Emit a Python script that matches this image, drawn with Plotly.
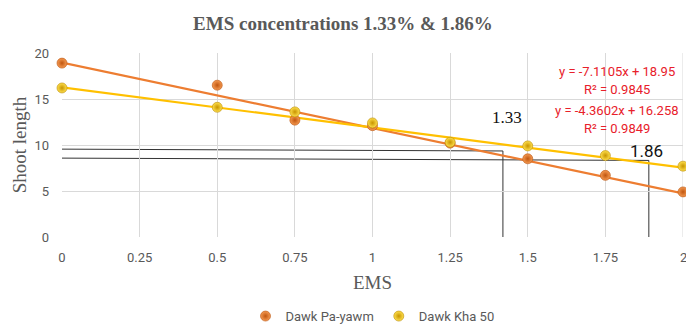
import plotly.graph_objects as go

# EMS dose (%) and mean shoot length for the two varieties
ems = [0, 0.5, 0.75, 1, 1.25, 1.5, 1.75, 2]
pa_yawm = [18.9, 16.5, 12.7, 12.1, 10.2, 8.5, 6.7, 4.9]
kha_50 = [16.2, 14.1, 13.6, 12.4, 10.3, 9.9, 8.85, 7.7]

# linear trendlines (slope, intercept, R²)
trend_pa = (-7.1105, 18.95, 0.9845)
trend_kha = (-4.3602, 16.258, 0.9849)

# reading guides: where each trend reaches the target shoot length
guide_x = [1.42, 1.89]
guide_y = [9.45, 8.45]
guide_labels = ["1.33", "1.86"]

x_ticks = [0, 0.25, 0.5, 0.75, 1, 1.25, 1.5, 1.75, 2]
y_ticks = [0, 5, 10, 15, 20]

ORANGE = "#ED7D31"
YELLOW = "#FFC000"
GRAY = "#595959"
SANS = "Roboto, sans-serif"
SERIF = "Liberation Serif, DejaVu Serif, serif"

fig = go.Figure()

x_end = [ems[0], ems[-1]]
for (m, b, _), col in ((trend_pa, ORANGE), (trend_kha, YELLOW)):
    fig.add_trace(go.Scatter(
        x=x_end, y=[m * x + b for x in x_end], mode="lines",
        line=dict(color=col, width=2.2), showlegend=False,
        hoverinfo="skip", cliponaxis=False))

fig.add_trace(go.Scatter(
    x=ems, y=pa_yawm, mode="markers", name="Dawk Pa-yawm",
    marker=dict(size=10, color="#F59A52",
                gradient=dict(type="radial", color="#C0560F"),
                line=dict(width=0.6, color="#B8520E")),
    cliponaxis=False))
fig.add_trace(go.Scatter(
    x=ems, y=kha_50, mode="markers", name="Dawk Kha 50",
    marker=dict(size=10, color="#FFE04D",
                gradient=dict(type="radial", color="#C79400"),
                line=dict(width=0.6, color="#B88A00")),
    cliponaxis=False))

# guide lines: horizontal from y-axis, vertical down to x-axis
for gx, gy, dy in zip(guide_x, guide_y, [0.2, 0.25]):
    fig.add_shape(type="line", x0=0, y0=gy + dy / 2, x1=gx, y1=gy - dy / 2,
                  line=dict(color="#333333", width=1), layer="below")
    fig.add_shape(type="line", x0=gx, y0=gy - dy / 2, x1=gx, y1=0,
                  line=dict(color="#333333", width=1), layer="below")

annotations = []
for (m, b, r2), y0 in ((trend_pa, 18.0), (trend_kha, 13.8)):
    annotations.append(dict(
        x=1.787, y=y0, xref="x", yref="y", showarrow=False,
        text=f"y = {m}x + {b}", font=dict(family=SANS, size=13, color="#E8202A")))
    annotations.append(dict(
        x=1.787, y=y0 - 2.0, xref="x", yref="y", showarrow=False,
        text=f"R² = {r2}", font=dict(family=SANS, size=13, color="#E8202A")))

annotations.append(dict(x=1.433, y=13.0, xref="x", yref="y", showarrow=False,
                        text=guide_labels[0],
                        font=dict(family=SERIF, size=17, color="#111111")))
annotations.append(dict(x=1.884, y=9.35, xref="x", yref="y", showarrow=False,
                        text=guide_labels[1],
                        font=dict(family=SANS, size=17, color="#111111")))

# last x tick label sits on the right edge and gets cut, so place it by hand
annotations.append(dict(x=x_ticks[-1], y=0, xref="x", yref="y", showarrow=False,
                        text=f"{x_ticks[-1]:g}", xanchor="center", yanchor="top",
                        yshift=-11,
                        font=dict(family=SANS, size=13, color=GRAY)))

fig.update_layout(
    width=686, height=331,
    margin=dict(l=62, r=3, t=53, b=94, autoexpand=False),
    paper_bgcolor="white", plot_bgcolor="white",
    title=dict(text="<b>EMS concentrations 1.33% & 1.86%</b>",
               x=0.5, xanchor="center", y=0.93, yanchor="middle",
               font=dict(family=SERIF, size=19, color=GRAY)),
    xaxis=dict(range=[0, 2], tickvals=x_ticks[:-1],
               ticktext=[f"{t:g}" for t in x_ticks[:-1]],
               showgrid=True, gridcolor="#D9D9D9", gridwidth=1,
               zeroline=False, showline=False, ticks="",
               tickfont=dict(family=SANS, size=13, color=GRAY),
               ticklabelstandoff=11, automargin=False,
               title=dict(text="EMS", standoff=11,
                          font=dict(family=SERIF, size=19, color=GRAY))),
    yaxis=dict(range=[0, 20], tickvals=y_ticks,
               showgrid=True, gridcolor="#D9D9D9", gridwidth=1,
               zeroline=False, showline=False, ticks="",
               tickfont=dict(family=SANS, size=13, color=GRAY),
               ticklabelstandoff=12, automargin=False,
               title=dict(text="Shoot length", standoff=2,
                          font=dict(family=SERIF, size=19, color=GRAY))),
    legend=dict(orientation="h", x=0.5, xanchor="center",
                yref="container", y=0.045, yanchor="middle",
                font=dict(family=SANS, size=13, color=GRAY),
                itemwidth=30),
    annotations=annotations,
    showlegend=True,
)
# vertical grid line at x = 2
fig.add_shape(type="line", x0=2, x1=2, y0=0, y1=20, xref="x", yref="y",
              line=dict(color="#D9D9D9", width=1), layer="below")

fig.write_html("out.html")
